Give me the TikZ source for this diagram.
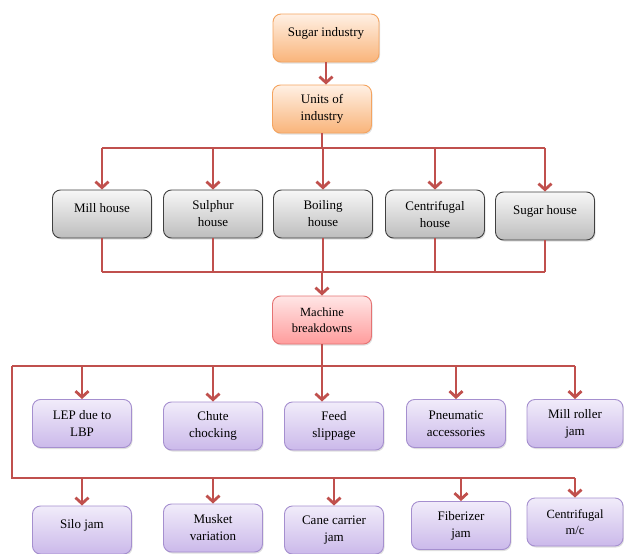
\documentclass[tikz,border=0pt]{standalone}
\usepackage{fontspec}
\setmainfont{Liberation Serif}
\usetikzlibrary{arrows.meta,shadows}
\definecolor{linecol}{HTML}{C0504D}
\definecolor{orB}{HTML}{F4A460}
\definecolor{orT}{HTML}{FFF0E4}
\definecolor{orD}{HTML}{F9B47A}
\definecolor{grT}{HTML}{F7F7F7}
\definecolor{grD}{HTML}{BDBDBD}
\definecolor{grB}{HTML}{404040}
\definecolor{rdT}{HTML}{FFE6E6}
\definecolor{rdD}{HTML}{FF9C9C}
\definecolor{rdB}{HTML}{E57373}
\definecolor{puT}{HTML}{F1ECFA}
\definecolor{puD}{HTML}{CBB9EA}
\definecolor{puB}{HTML}{A58FCF}
\tikzset{
  box/.style={rounded corners=8pt, minimum width=99pt, minimum height=48pt, align=center,
     font=\rmfamily\fontsize{13}{17}\selectfont, inner sep=2pt, line width=0.9pt,
     drop shadow={opacity=0.25, shadow xshift=1pt, shadow yshift=-1.5pt}},
  orbox/.style={box, draw=orB, top color=orT, bottom color=orD},
  grbox/.style={box, draw=grB, top color=grT, bottom color=grD},
  rdbox/.style={box, draw=rdB, top color=rdT, bottom color=rdD},
  pubox/.style={box, draw=puB, top color=puT, bottom color=puD},
  ln/.style={draw=linecol, line width=2.8pt},
  arr/.style={ln, -{Straight Barb[length=6pt,width=13pt,line width=2.8pt]}}
}
\begin{document}
\begin{tikzpicture}[x=1pt,y=-1pt]
\useasboundingbox (0,0) rectangle (624,554);
% top
\node[orbox, minimum width=106pt, text depth=12pt] (sugar) at (326,38) {Sugar industry};
\node[orbox] (units) at (322,109) {Units of\\industry};
% houses
\node[grbox, text depth=12pt] (mill) at (102,214) {Mill house};
\node[grbox] (sulphur) at (213,214) {Sulphur\\house};
\node[grbox] (boiling) at (323,214) {Boiling\\house};
\node[grbox] (centri) at (435,214) {Centrifugal\\house};
\node[grbox, text depth=12pt] (sugarh) at (545,216) {Sugar house};
% machine
\node[rdbox, font=\rmfamily\fontsize{12.5}{16}\selectfont] (machine) at (322,320) {Machine\\breakdowns};
% row 3
\node[pubox] (lep) at (82,423.5) {LEP due to\\LBP};
\node[pubox] (chute) at (213,426) {Chute\\chocking};
\node[pubox] (feed) at (334,426) {Feed\\slippage};
\node[pubox] (pneu) at (456,423.5) {Pneumatic\\accessories};
\node[pubox, minimum width=96pt] (roller) at (575,423.5) {Mill roller\\jam};
% row 4
\node[pubox, text depth=12pt] (silo) at (82,530) {Silo jam};
\node[pubox] (musket) at (213,528) {Musket\\variation};
\node[pubox] (cane) at (334,530) {Cane carrier\\jam};
\node[pubox] (fiber) at (461,525.5) {Fiberizer\\jam};
\node[pubox, minimum width=96pt, font=\rmfamily\fontsize{12.5}{16}\selectfont] (centmc) at (575,522) {Centrifugal\\m/c};
% connectors
\draw[arr] (sugar.south) -- (sugar.south |- units.north);
\coordinate (b1L) at (102,148);
\coordinate (b1R) at (545,148);
\draw[ln] (units.south) -- (units.south |- b1L);
\draw[ln] (b1L) -- (b1R);
\foreach \n in {mill,sulphur,boiling,centri,sugarh}
  \draw[arr] (\n.north |- b1L) -- (\n.north);
\coordinate (b2L) at (102,272);
\coordinate (b2R) at (545,272);
\draw[ln] (b2L) -- (b2R);
\foreach \n in {mill,sulphur,boiling,centri,sugarh}
  \draw[ln] (\n.south) -- (\n.south |- b2L);
\draw[arr] (machine.north |- b2L) -- (machine.north);
% machine breakdown fan
\coordinate (b3L) at (12,366);
\coordinate (b3R) at (575,366);
\coordinate (b4L) at (12,478);
\coordinate (b4R) at (575,478);
\draw[arr] (machine.south) -- (machine.south |- feed.north);
\draw[ln] (b3L) -- (b3R);
\foreach \n in {lep,chute,pneu,roller}
  \draw[arr] (\n.north |- b3L) -- (\n.north);
\draw[ln] (b3L) -- (b4L) -- (b4R);
\foreach \n in {silo,musket,cane,fiber,centmc}
  \draw[arr] (\n.north |- b4L) -- (\n.north);
\end{tikzpicture}
\end{document}
